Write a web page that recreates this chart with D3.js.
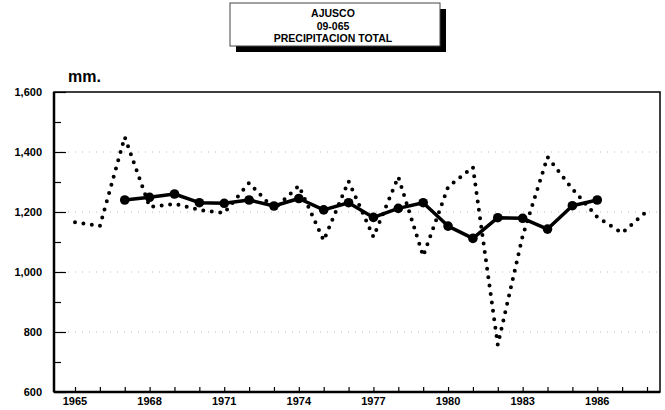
<!DOCTYPE html>
<html><head><meta charset="utf-8">
<script src="https://cdn.jsdelivr.net/npm/d3@7"></script>
<style>
body{margin:0;background:#fff;}
svg{display:block;}
text{font-family:"Liberation Sans",Arial,sans-serif;font-weight:bold;fill:#000;}
</style></head>
<body><svg id="c" width="665" height="410"></svg>
<script>
const titleLines = ["AJUSCO", "09-065", "PRECIPITACION TOTAL"];
const unitLabel = "mm.";
const avgYears = [1967,1968,1969,1970,1971,1972,1973,1974,1975,1976,1977,1978,1979,1980,1981,1982,1983,1984,1985,1986];
const avgValues = [1240,1249,1260,1231,1229,1240,1220,1245,1207,1231,1182,1212,1231,1153,1112,1181,1179,1143,1221,1240];
const annYears = [1965,1966,1967,1968,1969,1970,1971,1972,1973,1974,1975,1976,1977,1978,1979,1980,1981,1982,1983,1984,1985,1986,1987,1988];
const annValues = [1166,1153,1450,1217,1227,1207,1197,1297,1210,1287,1105,1303,1117,1317,1053,1283,1350,757,1120,1383,1277,1183,1130,1203];
const xTickLabels = [1965,1968,1971,1974,1977,1980,1983,1986];
const yTickLabels = [600,800,1000,1200,1400,1600];

const svg = d3.select("#c");
const L = 54, R = 660, T = 92, B = 392;
const x = d3.scaleLinear().domain([1965, 1988]).range([75, 647]);
const y = d3.scaleLinear().domain([600, 1600]).range([B, T]);

// gridlines (sparse dots)
const gridVals = [800,1000,1200,1400];
svg.append("g").selectAll("line").data(gridVals).join("line")
  .attr("x1", L).attr("x2", R).attr("y1", d=>y(d)).attr("y2", d=>y(d))
  .attr("stroke", "#aaa").attr("stroke-width", 0.8).attr("stroke-dasharray", "1,6");

// frame
svg.append("rect").attr("x", L).attr("y", T).attr("width", R-L).attr("height", B-T)
  .attr("fill", "none").attr("stroke", "#000").attr("stroke-width", 1.5);
svg.append("line").attr("x1", L).attr("x2", L).attr("y1", T).attr("y2", B).attr("stroke","#000").attr("stroke-width",2.5);
svg.append("line").attr("x1", L).attr("x2", R).attr("y1", B).attr("y2", B).attr("stroke","#000").attr("stroke-width",2.5);

// y axis
const yAxis = d3.axisRight(y).tickValues(d3.range(600, 1601, 100)).tickSize(7).tickFormat("");
const gy = svg.append("g").attr("transform", `translate(${L},0)`).call(yAxis);
gy.select(".domain").remove();
gy.selectAll(".tick line").attr("stroke","#000").attr("stroke-width",1.2)
  .attr("x2", d => d % 200 === 0 ? 12 : 7);
svg.append("g").selectAll("text").data(yTickLabels).join("text")
  .attr("x", 42).attr("y", d=>y(d)).attr("dy","0.35em").attr("text-anchor","end")
  .attr("font-size", 11).text(d => d3.format(",")(d));

// x axis
const xAxis = d3.axisTop(x).tickValues(d3.range(1965, 1989)).tickSize(5).tickFormat("");
const gx = svg.append("g").attr("transform", `translate(0,${B})`).call(xAxis);
gx.select(".domain").remove();
gx.selectAll(".tick line").attr("stroke","#000").attr("stroke-width",1.2);
svg.append("g").selectAll("text").data(xTickLabels).join("text")
  .attr("x", d=>x(d)).attr("y", 405).attr("text-anchor","middle")
  .attr("font-size", 11).text(d=>d);

// unit label
svg.append("text").attr("x", 68).attr("y", 82).attr("font-size", 16).attr("font-weight","normal").text(unitLabel);

// dotted annual series
const annData = annYears.map((yr,i)=>({yr, v: annValues[i]}));
svg.append("path").datum(annData)
  .attr("d", d3.line().x(d=>x(d.yr)).y(d=>y(d.v)))
  .attr("fill","none").attr("stroke","#000").attr("stroke-width",4)
  .attr("stroke-linecap","round").attr("stroke-dasharray","0,8.5");

// solid average series
const avgData = avgYears.map((yr,i)=>({yr, v: avgValues[i]}));
svg.append("path").datum(avgData)
  .attr("d", d3.line().x(d=>x(d.yr)).y(d=>y(d.v)))
  .attr("fill","none").attr("stroke","#000").attr("stroke-width",3.5).attr("stroke-linejoin","round");
svg.append("g").selectAll("circle").data(avgData).join("circle")
  .attr("cx", d=>x(d.yr)).attr("cy", d=>y(d.v)).attr("r", 4.8).attr("fill","#000");

// title box with shadow
const bx = 230, by = 3, bw = 210, bh = 43;
svg.append("rect").attr("x", bx+6).attr("y", by+6).attr("width", bw).attr("height", bh).attr("fill","#000");
svg.append("rect").attr("x", bx).attr("y", by).attr("width", bw).attr("height", bh)
  .attr("fill","#fff").attr("stroke","#444").attr("stroke-width",1);
svg.append("g").selectAll("text").data(titleLines).join("text")
  .attr("x", bx + bw/2 - 2).attr("y", (d,i)=> by + 14 + i*12.5)
  .attr("text-anchor","middle").attr("font-size", 10.5)
  .attr("font-family","'DejaVu Sans','Liberation Sans',sans-serif")
  .text(d=>d);
</script></body></html>
